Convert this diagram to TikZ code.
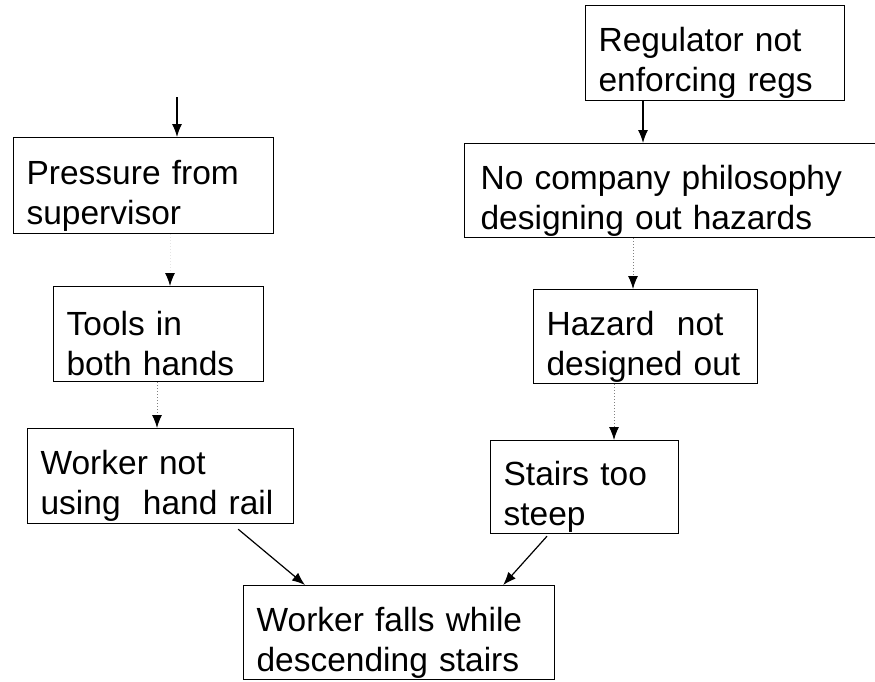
\documentclass[tikz,border=0pt]{standalone}
\usepackage{fontspec}
\setmainfont{Liberation Sans}
\usetikzlibrary{arrows.meta, calc, positioning}

\begin{document}
\begin{tikzpicture}[>={Latex[length=13pt,width=10pt]}, x=1pt, y=-1pt,
    box/.style={draw, line width=1.2pt, anchor=north west, align=left,
        inner xsep=13pt, inner ysep=0pt, font=\fontsize{33.5}{40}\selectfont,
        execute at begin node={\rule{0pt}{44pt}}},
    link/.style={->, line width=1.2pt},
    faint/.style={-{Latex[length=13pt,width=10pt,black]}, dotted, gray, line width=1pt}]
    \useasboundingbox (0,0) rectangle (875,681);

    % 1. Nhánh trái
    \node[box, text width=234pt, minimum height=96pt] (pressure) at (13,137) {Pressure from\\supervisor};
    \node[box, text width=184pt, minimum height=95pt] (tools) at (53,286) {Tools in\\both hands};
    \node[box, text width=240pt, minimum height=95pt] (worker) at (27,428) {Worker not\\using~ hand rail};

    % 2. Nhánh phải
    \node[box, text width=233pt, minimum height=95pt] (regulator) at (585,5) {Regulator not\\enforcing regs};
    \node[box, text width=390pt, minimum height=94pt, inner xsep=16pt] (nocompany) at (464,143) {No company philosophy\\designing out hazards};
    \node[box, text width=198pt, minimum height=94pt] (hazard) at (533,289) {Hazard~ not\\designed out};
    \node[box, text width=162pt, minimum height=93pt] (stairs) at (490,440) {Stairs too\\steep};

    % 3. Sự cố
    \node[box, text width=285pt, minimum height=94pt] (fall) at (243,585) {Worker falls while\\descending stairs};

    % 4. Các mũi tên
    \coordinate (start) at (177,97);
    \draw[link] (start) -- (start |- pressure.north);
    \draw[faint, gray!20] (pressure.south -| 170,0) -- (tools.north -| 170,0);
    \draw[faint] (tools.south -| 157,0) -- (worker.north -| 157,0);
    \draw[link] ([xshift=-56pt,yshift=-5pt]worker.south east) -- ([xshift=62pt]fall.north west);
    \draw[link] (regulator.south -| 643,0) -- (nocompany.north -| 643,0);
    \draw[faint] (nocompany.south -| 633,0) -- (hazard.north -| 633,0);
    \draw[faint] (hazard.south -| 614,0) -- (stairs.north -| 614,0);
    \draw[link] ([xshift=57pt,yshift=-2pt]stairs.south west) -- ([xshift=-52pt]fall.north east);
\end{tikzpicture}
\end{document}
